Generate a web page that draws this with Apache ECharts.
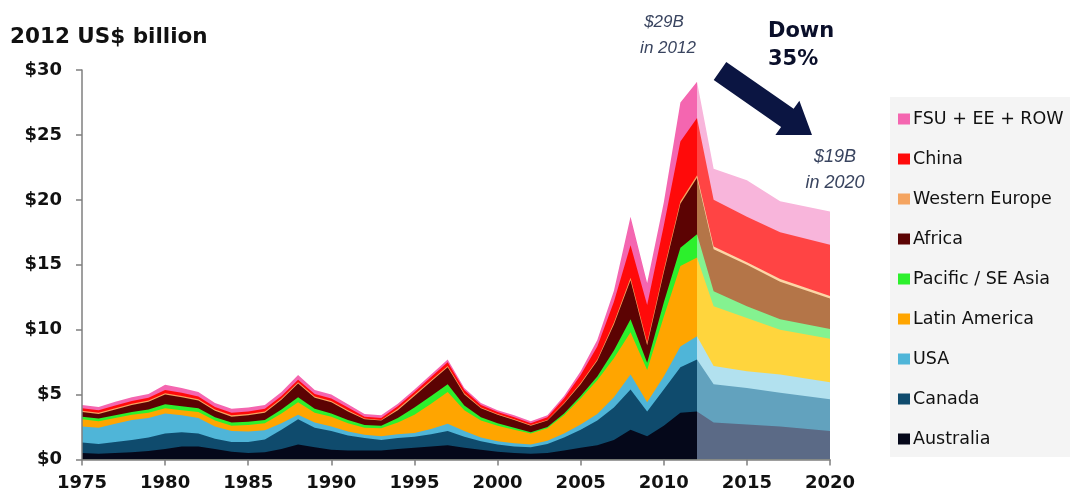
<!DOCTYPE html>
<html>
<head>
<meta charset="utf-8">
<script src="https://cdn.jsdelivr.net/npm/echarts@6/dist/echarts.min.js"></script>
<style>html,body{margin:0;padding:0;background:#fff}#c{width:1070px;height:498px}</style>
</head>
<body>
<div id="c"></div>
<script>
// ---- data (US$ billion, 2012 dollars) ----
const histYears = [1975,1976,1977,1978,1979,1980,1981,1982,1983,1984,1985,1986,1987,1988,1989,1990,1991,1992,1993,1994,1995,1996,1997,1998,1999,2000,2001,2002,2003,2004,2005,2006,2007,2008,2009,2010,2011,2012];
const fcYears = [2012, 2013, 2015, 2017, 2020];

const regions = ['Australia','Canada','USA','Latin America','Pacific / SE Asia','Africa','Western Europe','China','FSU + EE + ROW'];

const australiaHist = [0.5,0.45,0.5,0.55,0.65,0.8,1.0,1.0,0.8,0.6,0.5,0.55,0.8,1.15,0.95,0.75,0.7,0.7,0.7,0.8,0.9,1.0,1.1,0.9,0.75,0.6,0.5,0.45,0.5,0.7,0.9,1.1,1.5,2.3,1.8,2.6,3.6,3.7];
const canadaHist    = [0.8,0.75,0.85,0.95,1.05,1.2,1.1,1.0,0.8,0.75,0.85,1.0,1.5,1.95,1.5,1.45,1.15,0.95,0.8,0.85,0.85,0.95,1.1,0.85,0.65,0.55,0.5,0.5,0.7,1.0,1.4,1.9,2.5,3.1,1.9,2.8,3.5,4.0];
const usaHist       = [1.25,1.25,1.4,1.55,1.5,1.55,1.3,1.2,0.95,0.85,0.8,0.7,0.5,0.35,0.4,0.35,0.3,0.25,0.3,0.3,0.3,0.4,0.55,0.45,0.3,0.25,0.25,0.2,0.25,0.3,0.4,0.5,0.8,1.15,0.7,1.0,1.6,1.8];
const latamHist     = [0.55,0.5,0.45,0.4,0.4,0.4,0.4,0.45,0.45,0.4,0.5,0.55,0.75,0.95,0.75,0.75,0.65,0.55,0.6,0.9,1.4,1.95,2.45,1.6,1.3,1.2,1.05,0.85,0.95,1.4,2.0,2.6,3.0,3.25,2.5,4.6,6.2,6.05];
const pacificHist   = [0.2,0.2,0.2,0.2,0.25,0.3,0.3,0.3,0.25,0.25,0.25,0.25,0.3,0.4,0.3,0.25,0.25,0.2,0.2,0.35,0.55,0.6,0.6,0.35,0.25,0.2,0.15,0.1,0.1,0.15,0.2,0.3,0.6,1.0,0.55,1.1,1.4,1.8];
const africaHist    = [0.35,0.35,0.45,0.55,0.6,0.75,0.7,0.6,0.5,0.45,0.5,0.55,0.75,1.05,0.85,0.85,0.65,0.45,0.4,0.6,0.9,1.1,1.3,0.85,0.7,0.65,0.6,0.5,0.5,0.75,0.9,1.2,2.0,3.0,1.35,2.3,3.4,4.35];
const weuropeHist   = [0.1,0.1,0.1,0.1,0.1,0.1,0.1,0.1,0.1,0.1,0.1,0.1,0.1,0.1,0.1,0.1,0.1,0.05,0.05,0.1,0.1,0.1,0.1,0.1,0.05,0.05,0.05,0.05,0.05,0.05,0.1,0.1,0.15,0.2,0.2,0.2,0.2,0.2];
const chinaHist     = [0.2,0.2,0.2,0.2,0.2,0.25,0.25,0.2,0.2,0.2,0.2,0.2,0.2,0.2,0.2,0.2,0.2,0.15,0.15,0.2,0.2,0.25,0.3,0.25,0.2,0.15,0.15,0.15,0.2,0.35,0.6,1.0,1.6,2.5,2.9,3.4,4.6,4.4];
const fsuHist       = [0.25,0.25,0.3,0.3,0.3,0.4,0.35,0.35,0.3,0.3,0.3,0.3,0.3,0.35,0.3,0.3,0.25,0.2,0.2,0.2,0.2,0.2,0.2,0.15,0.15,0.15,0.15,0.15,0.15,0.2,0.3,0.5,0.85,2.2,1.7,1.8,3.0,2.8];

const australiaFc = [3.7, 2.85, 2.7, 2.55, 2.2];
const canadaFc    = [4.0, 2.95, 2.8, 2.6, 2.45];
const usaFc       = [1.8, 1.4, 1.3, 1.4, 1.3];
const latamFc     = [6.05, 4.6, 4.1, 3.45, 3.35];
const pacificFc   = [1.8, 1.15, 0.9, 0.8, 0.75];
const africaFc    = [4.35, 3.25, 3.2, 2.9, 2.35];
const weuropeFc   = [0.2, 0.2, 0.2, 0.2, 0.2];
const chinaFc     = [4.4, 3.6, 3.5, 3.6, 3.95];
const fsuFc       = [2.8, 2.4, 2.8, 2.4, 2.55];

const yTicks = { min: 0, max: 30, step: 5 };
const xTicks = { min: 1975, max: 2020, step: 5 };

// ---- styles ----
const histData = [australiaHist, canadaHist, usaHist, latamHist, pacificHist, africaHist, weuropeHist, chinaHist, fsuHist];
const fcData = [australiaFc, canadaFc, usaFc, latamFc, pacificFc, africaFc, weuropeFc, chinaFc, fsuFc];
const histColors = ['#05081a','#0f4b6d','#4fb5d8','#ffa500','#2cf02c','#5c0303','#f4a460','#ff0a0a','#f466b0'];
const fcColors   = ['#5b6a86','#62a2be','#b2e1ef','#ffd53d','#84f290','#b47548','#fdd6a6','#ff4444','#f8b5db'];

// cumulative stacking (each layer's top = sum of it and all layers below)
function cumulate(layers) {
  const out = [];
  layers.forEach((arr, i) => {
    out.push(arr.map((v, k) => (i ? out[i - 1][k] : 0) + v));
  });
  return out;
}
const histCum = cumulate(histData);
const fcCum = cumulate(fcData);

// draw top layer first so lower layers paint over it (stacked look)
const series = [];
for (let i = regions.length - 1; i >= 0; i--) {
  series.push({
    name: regions[i], type: 'line', symbol: 'none', silent: true,
    data: histYears.map((y, k) => [y, histCum[i][k]]),
    lineStyle: { width: 0 },
    itemStyle: { color: histColors[i] },
    areaStyle: { color: histColors[i], opacity: 1 },
    z: 2
  });
}
for (let i = regions.length - 1; i >= 0; i--) {
  series.push({
    name: regions[i] + ' forecast', type: 'line', symbol: 'none', silent: true,
    data: fcYears.map((y, k) => [y, fcCum[i][k]]),
    lineStyle: { width: 0 },
    itemStyle: { color: fcColors[i] },
    areaStyle: { color: fcColors[i], opacity: 1 },
    z: 2
  });
}

// arrow geometry (annotation)
function arrowPoints(sx, sy, tx, ty, shaftHalf, headHalf, headLen) {
  const dx = tx - sx, dy = ty - sy, L = Math.hypot(dx, dy);
  const ux = dx / L, uy = dy / L, nx = -uy, ny = ux;
  const bx = tx - ux * headLen, by = ty - uy * headLen;
  return [
    [sx + nx * shaftHalf, sy + ny * shaftHalf],
    [bx + nx * shaftHalf, by + ny * shaftHalf],
    [bx + nx * headHalf, by + ny * headHalf],
    [tx, ty],
    [bx - nx * headHalf, by - ny * headHalf],
    [bx - nx * shaftHalf, by - ny * shaftHalf],
    [sx - nx * shaftHalf, sy - ny * shaftHalf]
  ];
}

function txt(text, x, y, font, fill, align) {
  return { type: 'text', x, y, silent: true, z: 10,
    style: { text, font, fill, align: align || 'center', verticalAlign: 'middle',
             textAlign: align || 'center', textVerticalAlign: 'middle' } };
}

const axisCol = '#7f7f7f';
const labelFont = { fontFamily: 'DejaVu Sans', fontWeight: 'bold', fontSize: 18, color: '#111' };

const chart = echarts.init(document.getElementById('c'), null, { renderer: 'canvas' });
chart.setOption({
  animation: false,
  backgroundColor: '#ffffff',
  grid: { left: 82, right: 240, top: 70, bottom: 38.5, containLabel: false },
  xAxis: {
    type: 'value', min: xTicks.min, max: xTicks.max, interval: xTicks.step,
    axisLine: { show: true, lineStyle: { color: axisCol, width: 1.5 } },
    axisTick: { show: true, length: 6, lineStyle: { color: axisCol, width: 1.5 } },
    splitLine: { show: false },
    axisLabel: Object.assign({ margin: 15, formatter: v => String(v) }, labelFont),
    z: 5
  },
  yAxis: {
    type: 'value', min: yTicks.min, max: yTicks.max, interval: yTicks.step,
    axisLine: { show: true, lineStyle: { color: axisCol, width: 1.5 } },
    axisTick: { show: true, length: 6, lineStyle: { color: axisCol, width: 1.5 } },
    splitLine: { show: false },
    axisLabel: Object.assign({ margin: 20, formatter: v => '$' + v }, labelFont),
    z: 5
  },
  legend: {
    orient: 'vertical', left: 890, top: 97,
    data: regions.slice().reverse(),
    icon: 'rect', itemWidth: 12, itemHeight: 11, itemGap: 22,
    padding: [13, 20, 9, 8],
    backgroundColor: '#f4f4f4',
    selectedMode: false,
    textStyle: { fontFamily: 'DejaVu Sans', fontSize: 17.5, color: '#111', padding: [0, 0, 0, -2] }
  },
  graphic: [
    txt('2012 US$ billion', 10, 37, 'bold 21.5px "DejaVu Sans"', '#111', 'left'),
    txt('$29B', 664, 22, 'italic 17px "Liberation Sans"', '#39445f'),
    txt('in 2012', 668, 48, 'italic 17px "Liberation Sans"', '#39445f'),
    txt('Down', 768, 32, 'bold 21px "DejaVu Sans"', '#0a0f2a', 'left'),
    txt('35%', 768, 60, 'bold 21px "DejaVu Sans"', '#0a0f2a', 'left'),
    txt('$19B', 835, 157, 'italic 18px "Liberation Sans"', '#39445f'),
    txt('in 2020', 835, 183, 'italic 18px "Liberation Sans"', '#39445f'),
    { type: 'polygon', silent: true, z: 10,
      shape: { points: arrowPoints(720, 71, 812, 135, 11, 21, 30) },
      style: { fill: '#0b1542' } }
  ],
  series
});
</script>
</body>
</html>
